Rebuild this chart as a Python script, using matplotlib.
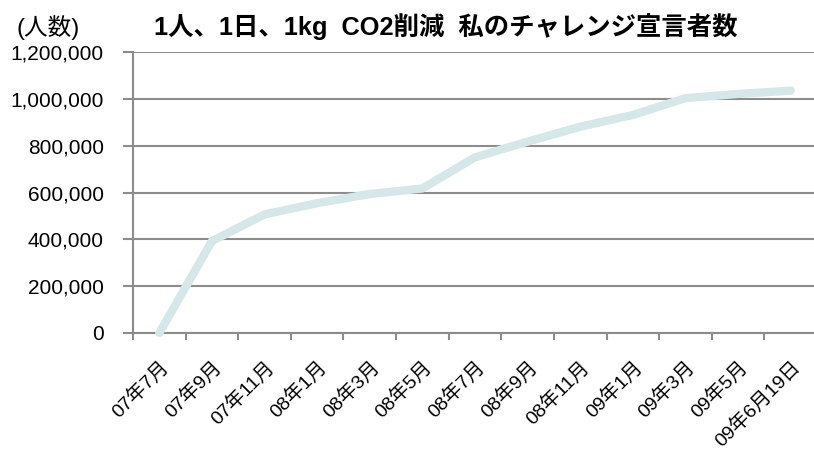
import matplotlib
matplotlib.use('Agg')
import matplotlib.pyplot as plt
from matplotlib.ticker import FuncFormatter, FixedLocator

plt.rcParams['font.family'] = ['Liberation Sans', 'Noto Sans CJK JP']

# Data
months = ['07年7月', '07年9月', '07年11月', '08年1月', '08年3月', '08年5月', '08年7月',
          '08年9月', '08年11月', '09年1月', '09年3月', '09年5月', '09年6月19日']
declarers = [0, 393000, 507000, 555000, 594000, 618000, 751000,
             818000, 882000, 932000, 1004000, 1022000, 1036000]
y_ticks = [0, 200000, 400000, 600000, 800000, 1000000, 1200000]

W, H = 814, 455
fig = plt.figure(figsize=(W / 100, H / 100), dpi=100)
left, right, top, bottom = 133, 817, 52.3, 333
ax = fig.add_axes([left / W, (H - bottom) / H, (right - left) / W, (bottom - top) / H])

grey = '#8c8c8c'
x = list(range(len(months)))
ax.plot(x, declarers, color='#d5e7e8', lw=6, solid_capstyle='round',
        solid_joinstyle='round', zorder=3, clip_on=False)

ax.set_xlim(-0.5, len(months) - 0.5)
ax.set_ylim(0, 1200000)
ax.set_yticks(y_ticks)
ax.yaxis.set_major_formatter(FuncFormatter(lambda v, p: f'{int(v):,}'))
ax.grid(axis='y', color=grey, lw=1.5)
ax.set_axisbelow(True)

ax.set_xticks(x)
ax.set_xticklabels(months, rotation=45, ha='right', rotation_mode='anchor', fontsize=14)
ax.xaxis.set_minor_locator(FixedLocator([i - 0.5 for i in range(len(months) + 1)]))
ax.tick_params(axis='x', which='major', length=0, pad=18)
ax.tick_params(axis='x', which='minor', length=5, width=1.5, color=grey, direction='out')
ax.tick_params(axis='y', length=7, width=1.5, color=grey, labelsize=15, pad=14)

for s in ['top', 'right']:
    ax.spines[s].set_visible(False)
for s in ['left', 'bottom']:
    ax.spines[s].set_color(grey)
    ax.spines[s].set_linewidth(1.5)

fig.text(48 / W, 1 - 28 / H, '(人数)', ha='center', va='center', fontsize=17)
fig.text(446 / W, 1 - 27 / H, '1人、1日、1kg  CO2削減  私のチャレンジ宣言者数',
         ha='center', va='center', fontsize=18.3, fontweight='bold')

fig.savefig('out.png', dpi=100)
